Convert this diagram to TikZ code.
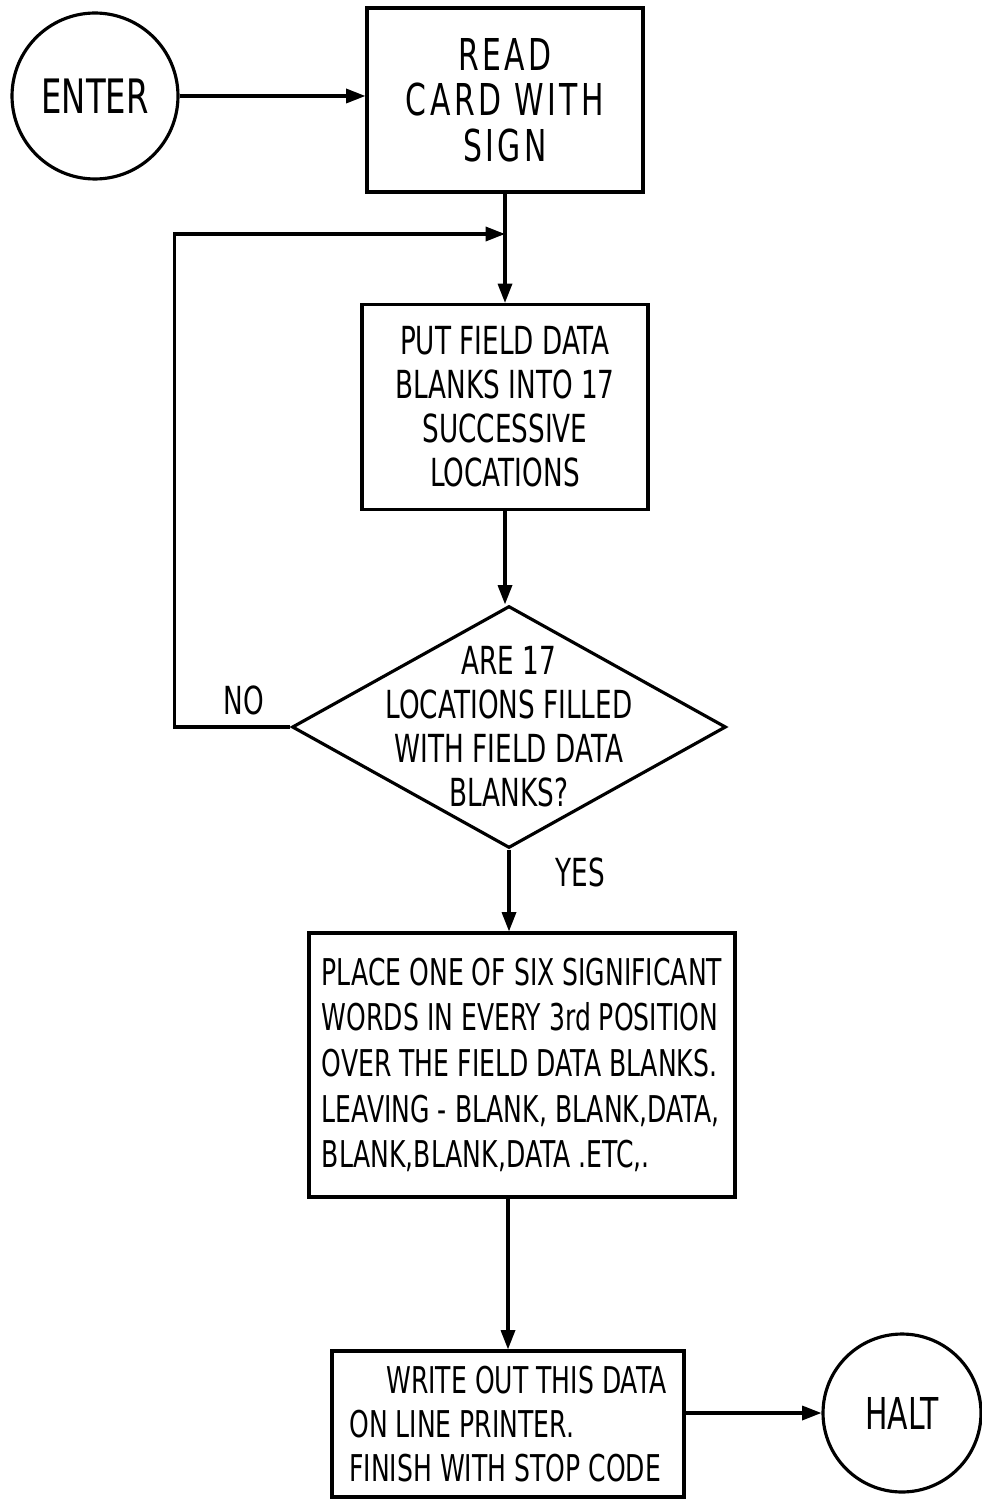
\documentclass[tikz,border=0pt]{standalone}
\usepackage{fontspec}
\setmainfont{DejaVu Sans}[FakeStretch=0.68]
\usetikzlibrary{shapes.geometric,arrows.meta}

\begin{document}
\begin{tikzpicture}[x=0.02cm,y=-0.02cm,line width=1.8pt,
  font=\fontsize{22}{25}\selectfont,
  term/.style={circle,draw,inner sep=0pt,minimum size=#1},
  box/.style={rectangle,draw,inner sep=0pt,align=center},
  arr/.style={-{Triangle[length=11pt,width=8pt]}}]
\useasboundingbox (0,0) rectangle (982,1500);
\node [term=3.32cm,font=\fontsize{27}{25}\selectfont] (enter) at (95,96) {ENTER};
\node [box,minimum width=5.52cm,minimum height=3.68cm,
  font=\fontsize{25}{26}\selectfont\addfontfeatures{LetterSpace=8}] (read) at (505,100) {READ\\CARD WITH\\SIGN};
\node [box,minimum width=5.72cm,minimum height=4.1cm] (put) at (505,407) {PUT FIELD DATA\\BLANKS INTO 17\\SUCCESSIVE\\LOCATIONS};
\node [diamond,draw,inner sep=0pt,minimum width=8.68cm,minimum height=4.84cm,
  label={[align=center]center:ARE 17\\LOCATIONS FILLED\\WITH FIELD DATA\\BLANKS?}] (ask) at (509,727) {};
\node [box,align=left,inner xsep=6pt,minimum width=8.52cm,minimum height=5.28cm,font=\fontsize{21}{26}\selectfont] (place) at (522,1065) {PLACE ONE OF SIX SIGNIFICANT\\WORDS IN EVERY 3rd POSITION\\OVER THE FIELD DATA BLANKS.\\LEAVING - BLANK, BLANK,DATA,\\BLANK,BLANK,DATA .ETC,.};
\node [box,align=left,inner xsep=8pt,minimum width=7.04cm,minimum height=2.92cm,font=\fontsize{21}{25}\selectfont] (write) at (508,1424) {\hspace*{1em}WRITE OUT THIS DATA\\ON LINE PRINTER.\\FINISH WITH STOP CODE};
\node [term=3.16cm,font=\fontsize{25}{25}\selectfont] (halt) at (902,1413) {HALT};
\node (no) at (244,700) {NO};
\node (yes) at (580,872) {YES};
\coordinate (join) at (505,234);

\draw [arr] (enter.east) -- (enter.east -| read.west);
\draw [arr] (read.south) -- (read.south |- put.north);
\draw [arr] (ask.west) -- ++(-116,0) |- (join);
\draw [arr] (put.south) -- (put.south |- ask.north);
\draw [arr] (ask.south) -- (ask.south |- place.north);
\draw [arr] (write.north |- place.south) -- (write.north);
\draw [arr] (write.east |- halt.west) -- (halt.west);
\end{tikzpicture}
\end{document}
